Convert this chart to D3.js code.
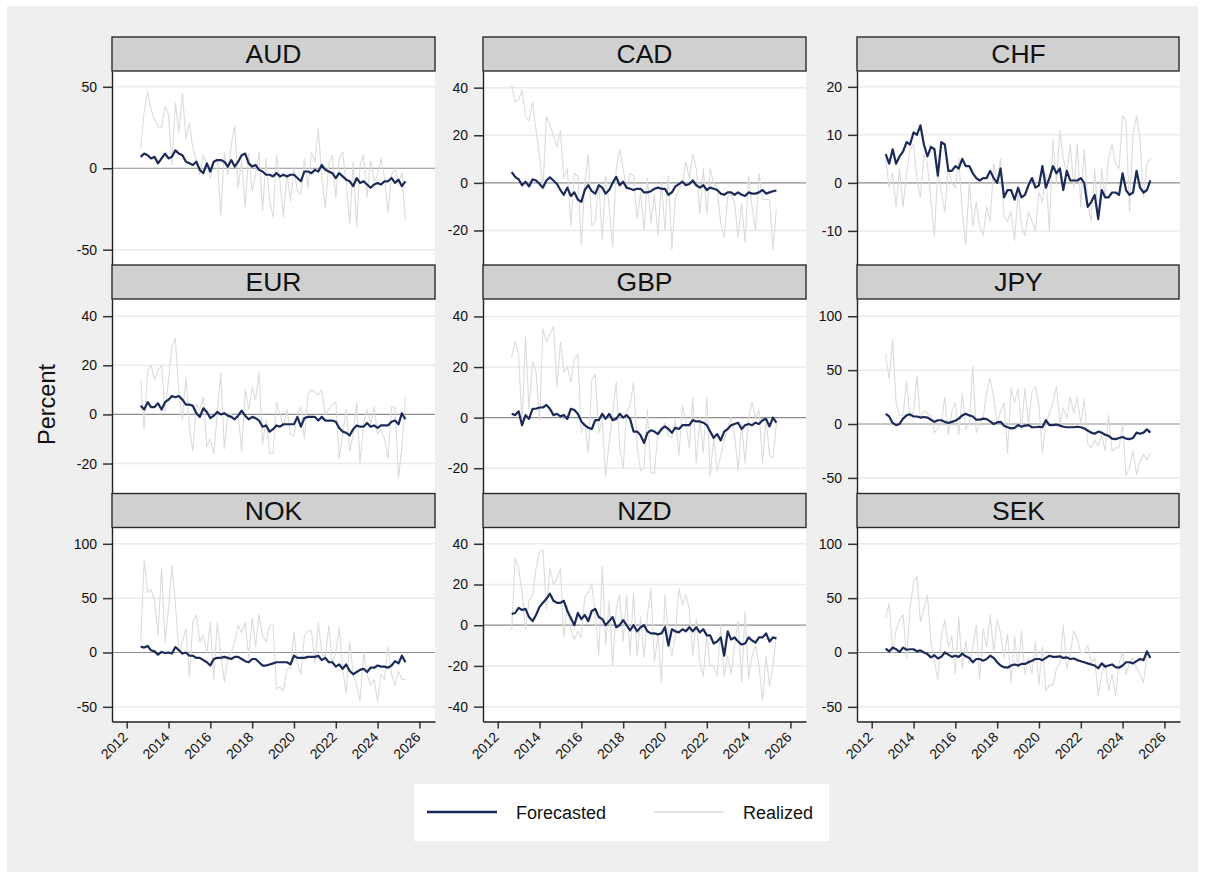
<!DOCTYPE html>
<html lang="en">
<head>
<meta charset="UTF-8" />
<title>Forecasted vs realized</title>
<script src="https://d3js.org/d3.v7.min.js"></script>
<style>
  body { margin: 0; background: #fff; }
  svg { display: block; font-family: "Liberation Sans", Arial, Helvetica, sans-serif; }
</style>
</head>
<body>
<div id="chart"></div>
<script>
// currencies, one panel each (read left to right, top to bottom)
const currencies = ["AUD", "CAD", "CHF", "EUR", "GBP", "JPY", "NOK", "NZD", "SEK"];

// observations every second month, Sep 2012 .. May 2025
const dates = d3.timeMonth.range(new Date(2012, 8, 1), new Date(2025, 5, 2), 2);

const yearTicks = [2012, 2014, 2016, 2018, 2020, 2022, 2024, 2026];

const forecastAUD = [7, 9, 8, 6, 7, 3, 6, 9, 6, 7, 11,
  9, 8, 4, 3, 2, 4, -1, -3, 3, -2, 4,
  5, 5, 4, 1, 5, 1, 4, 8, 9, 3, 1,
  2, -1, -2, -4, -4, -5, -3, -5, -4, -5, -4,
  -4, -6, -8, -2, -2, -3, -1, -2, 2, -1, -2,
  -3, -6, -3, -5, -7, -8, -11, -6, -9, -8, -10,
  -12, -10, -9, -10, -8, -8, -6, -9, -7, -11, -8];
const realizedAUD = [12, 35, 47, 36, 30, 26, 25, 38, 33, 2, 40,
  22, 46, 18, 28, 12, 5, -4, 8, 2, -6, 4,
  6, -29, 10, -4, 14, 26, -12, 5, -24, 9, -14,
  -4, 10, -26, 6, -20, -30, 8, -8, -30, -3, -20,
  0, -14, -16, 6, -12, 10, 4, 24, -5, -24, 3,
  8, -18, 6, 10, -8, -34, 4, -36, 2, 8, -18,
  5, -8, -4, 6, -6, -27, -4, 0, -9, -3, -32];

const forecastCAD = [4.5, 2.5, 1.5, -1, 0.5, -1.5, 1.5, 1, -0.5, -2, 1,
  2.3, 1, -0.5, -3, -5, -2, -5.5, -4, -7, -8, -3,
  -1, -3.5, -4.5, -1, -2, -4.5, -3, 0, 2.5, -1, 0.5,
  -2, -2.5, -3, -2.5, -2.5, -4, -4, -3.5, -2.5, -2, -2.5,
  -2.5, -5, -4, -1.5, -0.5, 0.5, -1, -0.5, 1, -1, -2,
  -1, -3, -2, -2.5, -3, -4.5, -5, -4, -4, -5, -4,
  -5, -5.5, -4, -4.5, -4.5, -4, -3, -4.5, -4, -3.5, -3.2];
const realizedCAD = [41, 34, 35, 39, 28, 26, 34, 22, 11, -2, 28,
  24, 20, 15, 22, 2, 6, -18, 4, 3, -26, 0,
  12, -18, -16, 0, -24, 3, -10, -27, 6, 14, 6,
  -3, 4, 3, -15, -4, -20, 2, -17, -5, -22, 0,
  -20, 3, -28, -6, -3, 0, 9, 2, 12, 6, -13,
  6, -13, 6, 0, -2, -17, -23, -6, -5, -8, -23,
  -9, -25, 3, -10, -20, 4, -7, -7, -7, -28, -11];

const forecastCHF = [6, 4, 7, 4, 5.5, 6.5, 8.5, 8, 10.5, 10, 12,
  8, 5.5, 7.5, 7, 1.5, 8.5, 8, 2.5, 2.5, 3.5, 3,
  5, 3.5, 3.5, 2, 1, 0.5, 1, 1, 2.5, 1, 0,
  3, -3, -1.5, -1.5, -3.5, -1, -3, -2.5, -0.5, 1, -1,
  -0.5, 3.5, -1, 1, 3.5, 2, 3, -1.5, 2.5, 0.5, 0.5,
  0.5, 1, 0, -5, -4, -2.5, -7.5, -1.5, -3, -3, -2,
  -2, -2.5, 2, -1.5, -2.5, -2, 2.5, -1, -2, -1.5, 0.5];
const realizedCHF = [5, -1, 2, -5, 3, -5, 2, 7, 8, 1, -3,
  6, 4, -4, -11, 3, -2, -6, 3, 0, -1, 5,
  -6, -13, 0, -9, -4, -9, -11, -5, -8, 4, 0,
  5, -7, -8, -6, -12, -2, -9, -11, -6, -8, -10,
  -2, -4, 2, -10, 9, 0, 11, 5, 2, 8, -1,
  8, -5, 7, -4, -8, 3, -8, 3, -3, 5, 8,
  4, 3, 14, 13, -6, 10, 14, 9, -3, 4, 5];

const forecastEUR = [3.5, 2, 5, 3, 3, 4.5, 2, 5, 6, 7.5, 7,
  7.5, 6, 4, 4, 3.5, 0.5, -1, 2.5, 1, -1.5, -0.5,
  1, 0, 0.5, -0.5, -1, -2, -0.5, 1.5, -0.5, -2, -1,
  -1.5, -2.5, -5, -4.5, -7, -6, -4.5, -5, -4, -4, -4,
  -4, -1, -5, -1.5, -1, -1, -1, -2.5, -1, -2.5, -2.5,
  -2.5, -3, -5.5, -7, -7.5, -8.5, -6, -4.5, -5, -5, -3.5,
  -5, -4.5, -5.5, -4.5, -4.5, -4.5, -3, -2.5, -4, 0.5, -2];
const realizedEUR = [14, -6, 18, 20, 14, 18, 20, 1, 14, 28, 31,
  8, -2, 15, -5, -15, 4, 2, 7, -13, -10, -16,
  0, 17, -14, 0, 0, -2, 0, -15, 10, 2, 11,
  6, 17, -12, -2, -16, -16, 5, 0, -5, 2, -8,
  -9, 0, 3, -10, 8, 10, 9, 8, 10, 0, 2,
  4, 5, -18, -8, 2, -15, -8, 5, -20, -4, 2,
  -4, 3, -8, -6, -10, -18, 3, 3, -26, -13, 7];

const forecastGBP = [1.5, 1, 2.5, -3, 1, -0.5, 3.5, 3.5, 4, 4, 5,
  3.5, 1, 1.5, 0.5, 1, -0.5, 3.5, 3, 1.5, -1.5, -3,
  -4, -4.5, -1, -1, 1.5, -0.5, 1.5, -1, -0.5, 1.5, 0,
  1, -0.5, -5.5, -5.5, -7, -10, -6, -5, -5.5, -6.5, -4.5,
  -3.5, -4.5, -6, -4, -4.5, -3, -3, -3, -1, -1.5, -1.5,
  -2, -3, -5.5, -8, -6.5, -9, -5.5, -4.5, -3, -2.5, -2,
  -4.5, -3, -2.5, -3, -2, -2.5, -1, -0.5, -3.5, 0, -2];
const realizedGBP = [24, 30, 25, -3, 32, 3, 22, 18, -1, 35, 30,
  33, 36, 12, 30, 18, 20, 14, 23, 25, -6, -2,
  -14, 15, 17, -6, -1, -23, -10, 2, 14, -12, -20,
  2, 5, 14, -11, -21, -20, 3, -22, -22, -5, -5,
  -2, -7, -8, -1, -15, 5, -2, -12, 8, -18, 0,
  -14, 8, -23, -8, -21, -15, -9, -4, 0, -7, -21,
  -2, -18, 0, 6, 0, 3, -18, 0, -15, -16, -2];

const forecastJPY = [9.5, 7, 1, -1, 0, 5, 8, 9, 7, 7, 6,
  6.5, 6, 4, 2, 3.5, 3.5, 2, 1, 2, 3, 5,
  8, 9.5, 8, 7, 4, 4, 5, 4.5, 2.5, 0, 1.5,
  2, -1.5, -3, -4, -3.5, -1, -2.5, -1.5, -1, -3, -3,
  -2.5, -3, 3.5, -1, -1, -0.5, -1.5, -2.5, -3, -3, -3,
  -2.5, -3, -4, -6, -8, -9, -7, -8, -10, -11, -13.5,
  -14, -13, -12, -13.5, -14, -13, -8, -9, -8, -5, -8];
const realizedJPY = [65, 42, 78, 20, 8, 8, 40, 5, 12, 45, 5,
  12, 10, 8, -8, -4, 0, 25, -10, 12, 20, -10,
  28, -5, 0, 54, -8, 0, 5, 30, 42, 25, 0,
  12, 20, -27, 33, 20, 33, -5, 33, 0, 30, 35,
  18, -27, 0, 10, 20, 35, 0, 15, 5, 25, 10,
  25, 0, 23, -18, -22, -15, -20, -10, -25, 8, -25,
  -22, -22, 0, -48, -40, -25, -47, -35, -28, -33, -27];

const forecastNOK = [5.5, 4.5, 6, 2, 1, -2, 0.5, -0.5, 0, -1, 5,
  2, -1, 0, -3, -3, -5, -5, -7, -9, -12, -6,
  -5, -5, -4, -5, -6, -4, -4, -6, -8, -9, -6,
  -6, -9, -12, -12, -11, -10, -9, -9, -9, -9, -11,
  -3, -5, -5, -5, -4, -4, -4, -3, -7, -5, -9,
  -9, -13, -11, -15, -11, -17, -20, -18, -16, -15, -18,
  -14, -14, -12, -13, -13, -14, -12, -8, -10, -3, -9];
const realizedNOK = [10, 85, 55, 58, 48, 16, 78, 10, 40, 80, 45,
  0, 10, 22, -22, 28, 35, 10, 16, 0, 28, -25,
  28, 0, -27, -5, 0, 10, 25, 18, 28, -5, 32,
  5, 35, 15, 10, 25, 25, -33, -32, -35, -15, -15,
  18, -10, -20, 15, 20, 20, -10, 28, 0, -5, 25,
  -10, 0, 23, -15, -38, 10, -20, -30, -45, 0, -20,
  -30, -25, -45, -20, -25, 5, -20, -30, -17, -25, -25];

const forecastNZD = [5.5, 6, 8.5, 7.5, 8, 4, 2, 5, 9, 11, 13,
  15.5, 12, 11, 11, 12, 7, 3.5, 0, 6, 3, 5,
  2, 7, 8, 4, 3, 0, 2, 4, -1, 0, 2.5,
  0, -2.5, 0, -3, -1, 0, -3, -4, -4, -4.5, -4,
  -1, -10, -2, -3, -3.5, -2, -3, -1, -3, -1, -3.5,
  -2, -5, -5, -9, -8, -6, -15, -3, -7, -6, -8,
  -9.5, -9, -6, -7.5, -8.5, -6, -6, -4, -8, -6, -6.5];
const realizedNZD = [-2, 33, 28, 16, -2, 12, 15, 28, 36, 37, 8,
  28, 20, 23, 28, -6, 10, -2, -7, -3, -6, 14,
  16, 20, 5, -15, 29, -10, 12, -20, 8, 15, -8,
  15, -15, 16, -15, 4, -16, 5, 18, -18, -5, -28,
  15, -5, -15, -5, 18, 10, 15, 8, -15, 3, -18,
  -25, -5, -20, -20, -25, 0, -25, -15, -24, -10, 2,
  -28, 7, -26, -15, -10, -20, -37, -15, -30, -20, -5];

const forecastSEK = [3.5, 1, 4.5, 3, 0.5, 4.5, 2.5, 3, 3, 1, 2,
  0, -1.5, -4.5, -2.5, -5.5, -4, 0, -2, -4, -3, -4,
  -1, -3.5, -5, -9, -6, -6, -7.5, -6, -3, -5, -9,
  -12, -13.5, -14, -12, -11, -12, -10.5, -10.5, -9, -7.5, -6,
  -6, -7, -5, -3, -4, -4, -3.5, -5, -4.5, -6, -5.5,
  -7, -8, -9, -10, -11, -12, -14.5, -10, -13, -12, -11,
  -13.5, -14, -12, -9, -9, -10, -8, -6, -7, 1, -5];
const realizedSEK = [32, 45, 0, 20, 30, 35, -5, 40, 65, 70, 28,
  40, 53, 10, -8, -25, 15, 30, 5, 15, -20, 33,
  -15, 10, -10, 5, 25, -25, 22, 5, 35, 0, 30,
  18, -5, 17, -28, 15, -15, 20, -20, -5, -20, 10,
  -30, 5, -35, -30, -30, -15, -10, 25, -15, 0, 20,
  12, 0, 0, 7, -10, -5, -40, -20, -10, -35, -20,
  -40, -10, 0, -20, -10, -5, -15, -20, -28, 0, -5];

// y tick labels per panel
const yTicks = {
  AUD: [-50, 0, 50], CAD: [-20, 0, 20, 40], CHF: [-10, 0, 10, 20],
  EUR: [-20, 0, 20, 40], GBP: [-20, 0, 20, 40], JPY: [-50, 0, 50, 100],
  NOK: [-50, 0, 50, 100], NZD: [-40, -20, 0, 20, 40], SEK: [-50, 0, 50, 100]
};

const series = {
  AUD: [forecastAUD, realizedAUD], CAD: [forecastCAD, realizedCAD], CHF: [forecastCHF, realizedCHF],
  EUR: [forecastEUR, realizedEUR], GBP: [forecastGBP, realizedGBP], JPY: [forecastJPY, realizedJPY],
  NOK: [forecastNOK, realizedNOK], NZD: [forecastNZD, realizedNZD], SEK: [forecastSEK, realizedSEK]
};

// scale ranges as drawn in the original (each panel has its own y range)
const yDomain = {
  AUD: [-59.4, 59.7], CAD: [-34.5, 47], CHF: [-17.1, 23.3],
  EUR: [-32, 47], GBP: [-29.8, 46.9], JPY: [-64, 116],
  NOK: [-63.5, 115], NZD: [-47.3, 48], SEK: [-63.5, 115]
};

const navy = "#1b2a58", pale = "#dcdcdc";
const fontFamily = "'Liberation Sans', Arial, sans-serif";

const svg = d3.select("#chart").append("svg")
  .attr("width", 1205).attr("height", 878);

// gray graph region
svg.append("rect").attr("x", 7).attr("y", 6).attr("width", 1191).attr("height", 866)
  .attr("fill", "#efefef");

const colLeft = [112, 483, 857];
const plotW = 323;
const rowTop = [37, 265, 493.5];
const stripH = 34, plotH = 194;

const xStart = new Date(2011, 3, 19), xEnd = new Date(2026, 8, 30);

currencies.forEach((cur, k) => {
  const col = k % 3, row = Math.floor(k / 3);
  const left = colLeft[col];
  const top = rowTop[row] + stripH;
  const bottom = top + plotH;

  const x = d3.scaleTime().domain([xStart, xEnd]).range([left, left + plotW]);
  const y = d3.scaleLinear().domain(yDomain[cur]).range([bottom, top]);

  const g = svg.append("g");

  // plot background
  g.append("rect").attr("x", left).attr("y", top).attr("width", plotW).attr("height", plotH)
    .attr("fill", "#fff");

  // grid lines
  g.selectAll(".grid").data(yTicks[cur].filter(d => d !== 0)).join("line")
    .attr("x1", left).attr("x2", left + plotW)
    .attr("y1", d => y(d)).attr("y2", d => y(d))
    .attr("stroke", "#ebebeb").attr("stroke-width", 1.5);

  // zero line
  g.append("line").attr("x1", left).attr("x2", left + plotW)
    .attr("y1", y(0)).attr("y2", y(0))
    .attr("stroke", "#8e8e8e").attr("stroke-width", 1.2);

  const clipId = "clip" + cur;
  g.append("clipPath").attr("id", clipId).append("rect")
    .attr("x", left).attr("y", top).attr("width", plotW).attr("height", plotH);

  const line = d3.line().x((d, i) => x(dates[i])).y(d => y(d));

  const [fc, rz] = series[cur];

  g.append("path").datum(rz)
    .attr("clip-path", `url(#${clipId})`)
    .attr("d", line)
    .attr("fill", "none").attr("stroke", pale).attr("stroke-width", 1.1)
    .attr("stroke-linejoin", "round");

  g.append("path").datum(fc)
    .attr("clip-path", `url(#${clipId})`)
    .attr("d", line)
    .attr("fill", "none").attr("stroke", navy).attr("stroke-width", 2.2)
    .attr("stroke-linejoin", "round");

  // y axis (plain hyphen for negatives, like the original)
  const ax = g.append("g").attr("transform", `translate(${left},0)`)
    .call(d3.axisLeft(y).tickValues(yTicks[cur]).tickFormat(d => String(d))
      .tickSize(9).tickSizeOuter(0).tickPadding(6));
  ax.select(".domain").attr("stroke", "#222").attr("stroke-width", 1.4);
  ax.selectAll(".tick line").attr("stroke", "#333").attr("stroke-width", 1.5);
  ax.selectAll(".tick text").attr("fill", "#111").style("font-size", "14px")
    .style("font-family", fontFamily);

  // x axis only on the bottom row
  if (row === 2) {
    const xa = g.append("g").attr("transform", `translate(0,${bottom})`)
      .call(d3.axisBottom(x)
        .tickValues(yearTicks.map(yr => new Date(yr, 0, 1)))
        .tickFormat(d3.timeFormat("%Y"))
        .tickSize(7).tickSizeOuter(0));
    xa.select(".domain").attr("stroke", "#222").attr("stroke-width", 1.4);
    xa.selectAll(".tick line").attr("stroke", "#333").attr("stroke-width", 1.5);
    xa.selectAll(".tick text")
      .attr("fill", "#111")
      .attr("text-anchor", "end")
      .attr("x", 0).attr("y", 0).attr("dy", "0.35em")
      .attr("transform", "translate(-2,13) rotate(-45)")
      .style("font-size", "14px")
      .style("font-family", fontFamily);
  }

  // strip with the currency label
  g.append("rect").attr("x", left).attr("y", rowTop[row])
    .attr("width", col === 2 ? plotW - 1 : plotW).attr("height", stripH)
    .attr("fill", "#d0d0d0").attr("stroke", "#2b2b2b").attr("stroke-width", 1.4);
  g.append("text").attr("x", left + plotW / 2).attr("y", rowTop[row] + 26)
    .attr("text-anchor", "middle").attr("fill", "#111")
    .style("font-size", "26.5px")
    .text(cur);
});

// y title
svg.append("text")
  .attr("transform", "translate(55,404.5) rotate(-90)")
  .attr("text-anchor", "middle").attr("fill", "#111")
  .style("font-size", "23.5px")
  .text("Percent");

// legend
const legend = svg.append("g");
legend.append("rect").attr("x", 414).attr("y", 784).attr("width", 415).attr("height", 57)
  .attr("fill", "#fff");
const legendItems = [
  { label: "Forecasted", color: navy, width: 2.4, x: 427 },
  { label: "Realized", color: pale, width: 1.6, x: 654 }
];
legendItems.forEach(it => {
  legend.append("line").attr("x1", it.x).attr("x2", it.x + 70)
    .attr("y1", 812).attr("y2", 812)
    .attr("stroke", it.color).attr("stroke-width", it.width);
  legend.append("text").attr("x", it.x + 89).attr("y", 818.5)
    .attr("fill", "#111").style("font-size", "18px")
    .text(it.label);
});
</script>
</body>
</html>
